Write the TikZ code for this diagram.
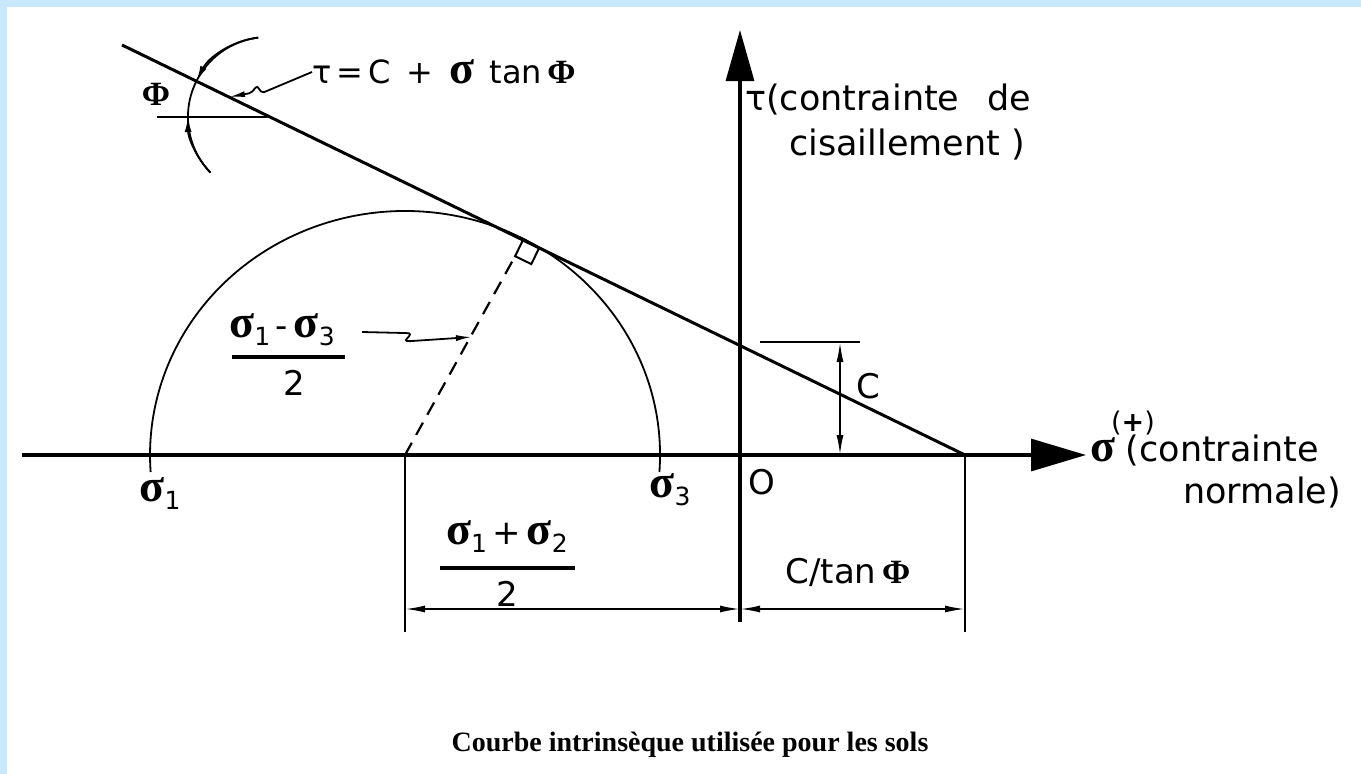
\documentclass[tikz,border=0pt]{standalone}
\usepackage{fontspec}
\setmainfont{DejaVu Sans}
\newfontfamily\grk{Liberation Serif}
\usetikzlibrary{arrows.meta,calc}
\definecolor{framebl}{RGB}{200,232,252}
\newcommand{\sgm}{{\grk\bfseries\fontsize{46}{46}\selectfont σ}}
\newcommand{\Phb}{{\grk\bfseries\fontsize{34}{34}\selectfont Φ}}
\newcommand{\sbs}[1]{\raisebox{-8pt}{\fontsize{25}{25}\selectfont #1}}
\begin{document}
\begin{tikzpicture}[x=1pt,y=-1pt,
  lbl/.style={inner sep=0pt, font=\fontsize{34}{36}\selectfont},
  axisline/.style={line width=3.2pt},
  mainline/.style={line width=3pt},
  thinline/.style={line width=1.8pt},
  dimline/.style={line width=1.8pt, {Latex[length=20pt,width=7pt]}-{Latex[length=20pt,width=7pt]}},
  leader/.style={line width=1.8pt, -{Latex[length=16pt,width=6pt]}, rounded corners=2pt},
  fracbar/.style={line width=3.2pt}
]
\useasboundingbox (0,0) rectangle (1361,774);
\fill[white] (0,0) rectangle (1361,774);
\fill[framebl] (0,0) rectangle (1361,7);
\fill[framebl] (0,0) rectangle (7,774);

% key points
\coordinate (O) at (740,455);
\coordinate (xs) at (22,455);
\coordinate (xe) at (1086,455);
\coordinate (ys) at (740,622);
\coordinate (ye) at (740,30);
\coordinate (L) at (122,45);
\coordinate (R) at (965,455);
\coordinate (M) at (405,455);
\coordinate (T) at (523,240);

% axes
\draw[axisline, -{Triangle[length=55pt,width=32pt]}] (xs) -- (xe);
\draw[axisline, -{Triangle[length=51pt,width=28pt]}] (ys) -- (ye);

% failure line
\draw[mainline] (L) -- (R);

% Mohr circle
\draw[thinline] (659.4,472) arc[start angle=4, end angle=-184, x radius=255, y radius=244];

% radius (dashed) and right angle mark
\coordinate (Tn) at ($(T)+(-7.9,16.2)$);
\draw[line width=2.2pt, dash pattern=on 14pt off 9pt] (M) -- (Tn);
\draw[line width=2pt] (T) -- ($(T)+(16.2,7.9)$) -- ($(T)+(8.3,24.1)$) -- (Tn) -- cycle;

% phi angle
\coordinate (P) at (268,117);
\draw[thinline] (157,117) -- (P);
\draw[thinline] ($(P)+(-9.8,-79.4)$) arc[start angle=-97, end angle=-224, radius=80];
\draw[thinline, -{Latex[length=15pt,width=7pt]}] ($(P)+(-9.8,-79.4)$) arc[start angle=-97, end angle=-153, radius=80];
\draw[thinline, -{Latex[length=15pt,width=7pt]}] ($(P)+(-57.5,55.6)$) arc[start angle=-224, end angle=-180, radius=80];
\node[inner sep=0pt] (phi) at (156,94) {\Phb};

% equation label and leader
\node[lbl, anchor=west, font=\fontsize{32}{34}\selectfont] (eq) at (312,72) {τ\,=\,C\, +\, \sgm\, tan\,\Phb};
\coordinate (eqt) at (229,97);
\draw[leader] (eq.west) -- (262,93) -- (257,86) -- (251,93) -- (eqt);

% axis labels
\node[lbl, anchor=west, font=\fontsize{35}{36}\selectfont] (tau) at (745,100) {τ(contrainte\hspace{0.8em}de};
\node[lbl, anchor=west, font=\fontsize{35}{36}\selectfont] (cis) at (789,145) {cisaillement )};
\node[lbl, anchor=west, font=\fontsize{35}{36}\selectfont] (sig) at (1090,451) {\sgm\hspace{0.3em}(contrainte};
\node[lbl, anchor=west, font=\fontsize{35}{36}\selectfont] (nor) at (1183,493) {normale)};
\node[lbl, font=\fontsize{27}{27}\selectfont] (plus) at (1133,423) {(\textbf{+})};
\node[lbl] (zero) at (762,482) {O};

% sigma labels
\node[lbl] (s1) at (160,494) {\sgm\sbs{1}};
\node[lbl] (s3) at (670,490) {\sgm\sbs{3}};

% cohesion dimension
\coordinate (ct1) at (760,342);
\coordinate (ct2) at (860,342);
\coordinate (ca) at (840,342);
\coordinate (cb) at (840,455);
\draw[thinline] (ct1) -- (ct2);
\draw[dimline] (ca) -- (cb);
\node[lbl] (C) at (868,386) {C};

% radius label
\node[lbl] (r1) at (282,330) {\sgm\sbs{1}\,-\,\sgm\sbs{3}};
\draw[fracbar] (232,357) -- (345,357);
\node[lbl] (r2) at (294,383) {2};
\coordinate (rt) at (472,337);
\draw[leader] (362,332) -- (404,333) .. controls (418,333) and (398,342) .. (412,341) -- (rt);

% bottom dimensions
\coordinate (e1a) at (405,455);
\coordinate (e1b) at (405,632);
\coordinate (e2a) at (965,455);
\coordinate (e2b) at (965,632);
\draw[thinline] (e1a) -- (e1b);
\draw[thinline] (e2a) -- (e2b);
\coordinate (d1) at (405,609);
\coordinate (d2) at (740,609);
\coordinate (d3) at (965,609);
\draw[dimline] (d1) -- (d2);
\draw[dimline] (d2) -- (d3);
\node[lbl] (c1) at (507,537) {\sgm\sbs{1}\,+\,\sgm\sbs{2}};
\draw[fracbar] (440,568) -- (575,568);
\node[lbl] (c2) at (507,594) {2};
\node[lbl] (ctan) at (848,572) {C/tan\,\Phb};

% caption
\node[inner sep=0pt, font=\grk\bfseries\fontsize{28}{30}\selectfont] (cap) at (690,745) {Courbe intrinsèque utilisée pour les sols};
\end{tikzpicture}
\end{document}
